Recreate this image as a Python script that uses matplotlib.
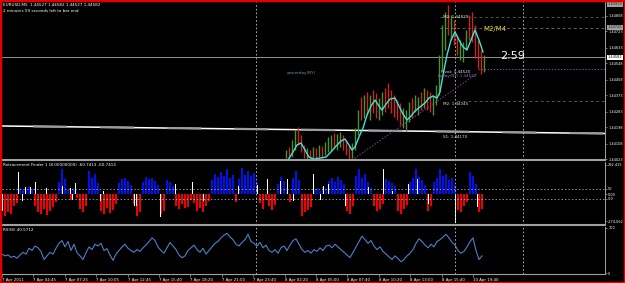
import numpy as np
import matplotlib
matplotlib.use("Agg")
import matplotlib.pyplot as plt
from matplotlib.patches import Rectangle

plt.rcParams['lines.scale_dashes'] = False

W, H = 625, 283

# ---- price panel data (EURUSD M5) ----
cand_start = 286
cand_hi = [1.44075, 1.44091, 1.44129, 1.44184, 1.44200, 1.44157, 1.44102, 1.44085, 1.44075, 1.44091,
           1.44085, 1.44102, 1.44096, 1.44118, 1.44146, 1.44157, 1.44167, 1.44162, 1.44173, 1.44157,
           1.44129, 1.44102, 1.44113, 1.44195, 1.44293, 1.44364, 1.44375, 1.44392, 1.44375, 1.44403,
           1.44386, 1.44359, 1.44392, 1.44414, 1.44441, 1.44403, 1.44375, 1.44348, 1.44332, 1.44304,
           1.44293, 1.44337, 1.44359, 1.44375, 1.44364, 1.44392, 1.44414, 1.44403, 1.44392, 1.44375,
           1.44430, 1.44594, 1.44758, 1.44829, 1.44868, 1.44813, 1.44786, 1.44704, 1.44676, 1.44665,
           1.44731, 1.44813, 1.44829, 1.44758, 1.44676, 1.44622, 1.44594]
cand_lo = [1.44031, 1.44031, 1.44036, 1.44075, 1.44102, 1.44064, 1.44031, 1.44020, 1.44020, 1.44031,
           1.44020, 1.44036, 1.44031, 1.44047, 1.44064, 1.44075, 1.44085, 1.44075, 1.44091, 1.44075,
           1.44047, 1.44020, 1.44031, 1.44075, 1.44157, 1.44239, 1.44250, 1.44266, 1.44239, 1.44277,
           1.44250, 1.44239, 1.44266, 1.44282, 1.44304, 1.44277, 1.44255, 1.44239, 1.44211, 1.44195,
           1.44178, 1.44228, 1.44250, 1.44282, 1.44266, 1.44293, 1.44304, 1.44293, 1.44282, 1.44266,
           1.44321, 1.44375, 1.44512, 1.44622, 1.44704, 1.44676, 1.44649, 1.44594, 1.44567, 1.44556,
           1.44622, 1.44676, 1.44665, 1.44578, 1.44523, 1.44490, 1.44501]
cand_dir = "grggrrrgrgrgrgggrggrrrgggrgrgrrggrrrrrrgggrggrgrrgggggrgrrgggrrrrr"

ma_x = [288, 293, 297, 301, 305, 309, 314, 320, 326, 331, 336, 341, 345, 349, 352, 355, 359, 363, 367, 371,
        375, 379, 382, 386, 390, 395, 399, 403, 407, 411, 415, 420, 425, 429, 433, 437, 440, 443, 447, 451,
        455, 459, 463, 467, 471, 475, 479, 483]
ma_y = [1.44020, 1.44064, 1.44102, 1.44113, 1.44075, 1.44036, 1.44025, 1.44031, 1.44036, 1.44064,
        1.44096, 1.44124, 1.44135, 1.44102, 1.44075, 1.44091, 1.44146, 1.44195, 1.44266, 1.44315,
        1.44348, 1.44315, 1.44293, 1.44326, 1.44353, 1.44359, 1.44315, 1.44271, 1.44239, 1.44260,
        1.44288, 1.44310, 1.44332, 1.44359, 1.44370, 1.44359, 1.44392, 1.44485, 1.44594, 1.44676,
        1.44720, 1.44676, 1.44638, 1.44622, 1.44676, 1.44731, 1.44676, 1.44611]

trend_x = [2, 605]
trend_y = [1.44206, 1.44165]
today_x = [352, 478]
today_y = [1.44020, 1.44496]
pivot, m2, m3_line, m3_top = 1.44520, 1.44345, 1.44742, 1.44802
bid = 1.44582

price_ticks = [1.44808, 1.44723, 1.44633, 1.44548, 1.44458, 1.44373, 1.44283, 1.44198, 1.44108, 1.44023]

# ---- Retracement Finder histogram ----
hist_vals = [-150, -220, -180, -200, -120, -90,
             60, 40, 30, 70, 50,
             -120, -180, -200, -150, -210, -170, -130, -80,
             120, 250, 150,
             40, -60, 50, -40,
             -150, -180, -120,
             230, 160, 200, 110,
             -170, -200, -140, -190, -160, -100,
             110, 150, 160, 130, 90,
             -100, -220, -180,
             120, 170, 150, 160, 130, 90,
             -200, -170,
             140, 120, 80,
             -120, -150, -100, -140, -130, -60,
             -90, -170, -140, -180, -120, -70,
             140, 200, 170, 220, 180, 250, 160, 190,
             -80,
             150, 260, 190, 230, 180, 210, 120,
             -90, -150, -60, -120, -160, -110,
             100, 170, 130, 60,
             -80,
             160, 230, 140,
             -220, -180, -160, -130,
             40, 60, 30, 70, 50,
             130, 160, 120, 170, 140, 100,
             -170, -200, -120,
             180, 250, 160, 200, 120,
             60,
             -120, -170, -150, -100,
             150, 130, 110, 80,
             -170, -200, -150, -110,
             120, 160, 250, 170, 140, 90,
             -170, -120,
             120, 160, 250, 180, 200, 140, 160, 90,
             -160, -180, -120, -80,
             220, 180, 100,
             -180, -150]
white_x = [2, 18, 22, 25, 30, 35, 46, 62, 70, 72, 75, 100, 103, 134, 136, 160, 175, 192, 203, 238,
           257, 267, 280, 287, 293, 313, 320, 323, 328, 345, 368, 383, 392, 408, 417, 428, 455, 477]
white_v = [-170, 220, -70, 70, 70, 120, 60, 80, 60, -60, 110, -70, 30, -120, -120, -230, 100, 120, -70, 80,
           90, 150, 130, 150, -70, 200, -60, 80, 100, -120, 70, 250, 30, 100, 150, -100, -290, -130]

# ---- RSI(8) ----
rsi_vals = [42, 38, 40, 35, 37, 33, 40, 46, 42, 55, 50, 60, 56, 48, 30, 38, 46, 42, 55, 66,
            72, 58, 70, 50, 64, 45, 38, 30, 45, 58, 52, 64, 60, 66, 50, 54, 40, 28, 42, 50,
            58, 64, 55, 50, 46, 52, 48, 56, 62, 70, 78, 72, 58, 50, 44, 56, 68, 60, 52, 40,
            34, 38, 50, 56, 62, 52, 46, 55, 42, 50, 58, 66, 70, 78, 84, 88, 80, 74, 64, 60,
            68, 74, 86, 70, 66, 60, 68, 56, 62, 50, 46, 52, 44, 56, 60, 50, 62, 72, 76, 64,
            52, 46, 50, 44, 52, 48, 56, 50, 60, 62, 56, 64, 58, 52, 46, 40, 34, 46, 58, 70,
            82, 74, 66, 72, 60, 52, 58, 48, 42, 36, 30, 38, 32, 25, 30, 38, 44, 52, 66, 76,
            70, 62, 56, 64, 58, 70, 74, 80, 86, 78, 68, 62, 50, 44, 48, 58, 70, 78, 50, 30, 38]

time_labels = ["7 Apr 2011", "7 Apr 04:45", "7 Apr 07:25", "7 Apr 10:05", "7 Apr 12:45", "7 Apr 15:40",
               "7 Apr 18:20", "7 Apr 21:00", "7 Apr 23:40", "8 Apr 02:20", "8 Apr 05:00", "8 Apr 07:40",
               "8 Apr 10:20", "8 Apr 13:00", "8 Apr 15:40", "10 Apr 19:40"]
vline_x = [256, 455, 523]

AXC = '#a0a0a0'
SMALL = 3.0
YLAB = 2.5

fig = plt.figure(figsize=(W / 100, H / 100), dpi=100, facecolor='black')


def make_panel(top, bottom):
    ax = fig.add_axes([2 / W, 1 - bottom / H, 603 / W, (bottom - top) / H])
    ax.set_facecolor('black')
    ax.set_xlim(2, 605)
    for s in ['top', 'left']:
        ax.spines[s].set_visible(False)
    ax.spines['right'].set_color(AXC)
    ax.spines['right'].set_linewidth(0.7)
    ax.spines['bottom'].set_color(AXC)
    ax.spines['bottom'].set_linewidth(1.5)
    ax.yaxis.tick_right()
    ax.tick_params(axis='y', colors=AXC, labelcolor='white', labelsize=YLAB, length=1.5, width=0.5, pad=0.8)
    ax.tick_params(axis='x', bottom=False, labelbottom=False)
    for xv in vline_x:
        ax.axvline(xv, color='#c8c8c8', lw=0.6, ls=(0, (1.2, 1.5)))
    return ax


# price panel
ax1 = make_panel(2, 160)
ax1.set_ylim(1.44020, 1.44884)
ax1.set_yticks(price_ticks)
ax1.set_yticklabels([f"{t:.5f}" for t in price_ticks])

ax1.axhline(bid, color='#a8a8a8', lw=0.6)
ax1.plot(trend_x, trend_y, color='white', lw=1.1)
ax1.plot(trend_x, trend_y, color='#9c9c9c', lw=1.6, ls=(26, (24.5, 23.8)))
ax1.hlines(m3_top, 440, 605, color='#4a6a4a', lw=0.6, ls=(0, (2, 2)))
ax1.hlines(m3_line, 440, 605, color='#6a7a6a', lw=0.6, ls=(0, (2, 2)))
ax1.hlines(m2, 457, 605, color='#3f7a3f', lw=0.6, ls=(0, (2, 2)))
ax1.hlines(pivot, 478, 605, color='#8a3c9a', lw=0.8, ls=(0, (1, 1.2)))
ax1.plot(today_x, today_y, color='#7a3c9a', lw=0.8, ls=(0, (1, 1.2)))

cx = np.arange(len(cand_hi)) * 3 + cand_start
ccol = ['#4f8f2f' if d == 'g' else '#c8281e' for d in cand_dir]
ax1.vlines(cx, cand_lo, cand_hi, colors=ccol, lw=1.0)
ax1.plot(ma_x, ma_y, color='#46e0dc', lw=1.0)

tc = '#e0e0e0'
ax1.text(443, 1.44802, "M3: 1.44829", color=tc, fontsize=SMALL, va='center')
ax1.text(483, 1.44737, "M2/M4", color='#e0d040', fontsize=5, va='center')
ax1.text(500, 1.44587, "2:59", color='white', fontsize=8, va='center')
ax1.text(438, 1.44480, "today(NY) 1.44520", color='#7c7ca8', fontsize=SMALL, va='center')
ax1.text(441, 1.44502, "Pivot: 1.44520", color=tc, fontsize=SMALL, va='center')
ax1.text(287, 1.44496, "yesterday(NY)", color='#6f93a3', fontsize=SMALL, va='center')
ax1.text(443, 1.44326, "M2: 1.44345", color=tc, fontsize=SMALL, va='center')
ax1.text(443, 1.44146, "S1: 1.44170", color=tc, fontsize=SMALL, va='center')

ytr = ax1.get_yaxis_transform()
ax1.text(1.005, bid, "1.44582", transform=ytr, color='black', fontsize=YLAB, va='center', ha='left',
         bbox=dict(boxstyle='square,pad=0.15', fc='white', ec='none'), clip_on=False)
ax1.text(1.005, 1.44745, "1.44745", transform=ytr, color='#202020', fontsize=YLAB, va='center', ha='left',
         bbox=dict(boxstyle='square,pad=0.15', fc='#a0a0a0', ec='none'), clip_on=False)
ax1.text(1.005, 0.985, "1.44919", transform=ax1.transAxes, color='#202020', fontsize=YLAB, va='center',
         ha='left', bbox=dict(boxstyle='square,pad=0.15', fc='#a0a0a0', ec='none'), clip_on=False)

# retracement finder panel
ax2 = make_panel(162, 225)
ax2.set_ylim(-310, 320)
ax2.set_yticks([292.415, 50, 0, -50, -274.062])
ax2.set_yticklabels(["292.415", "50", "0.00", "-50", "-274.062"])
hx = np.arange(len(hist_vals)) * 3 + 2
hcol = ['#0010f0' if v > 0 else '#f00000' for v in hist_vals]
ax2.bar(hx, hist_vals, width=2.8, color=hcol, linewidth=0)
ax2.bar(white_x, white_v, width=1.0, color='white', linewidth=0)
for lv in (50, -50):
    ax2.axhline(lv, color='#d0d0d0', lw=0.5, ls=(0, (1, 1.5)))
ax2.text(3, 305, "Retracement Finder 1 (8.00000000) -60.7413 -60.7413", color='white', fontsize=SMALL,
         va='top')

# RSI panel
ax3 = make_panel(227, 274)
ax3.spines['bottom'].set_linewidth(0.8)
ax3.set_ylim(-2.2, 102.2)
ax3.set_yticks([100, 0])
ax3.set_yticklabels(["100", "0"])
rx = np.arange(len(rsi_vals)) * 3 + 2
ax3.plot(rx, rsi_vals, color='#4f7fc8', lw=0.8)
ax3.text(3, 99, "RSI(8) 40.5712", color='white', fontsize=SMALL, va='top')
tpos = np.arange(len(time_labels)) * 31.4 + 2
ax3.set_xticks(tpos)
ax3.set_xticklabels(time_labels)
ax3.tick_params(axis='x', bottom=True, labelbottom=True, colors=AXC, labelcolor='white',
                labelsize=2.8, length=2, width=0.5, pad=1)
for lbl in ax3.get_xticklabels():
    lbl.set_ha('left')

# header text
fig.text(3 / W, 1 - 5 / H, "EURUSD,M5  1.44527 1.44582 1.44527 1.44582", color='white', fontsize=SMALL,
         va='center')
fig.text(3 / W, 1 - 11 / H, "2 minutes 59 seconds left to bar end", color='white', fontsize=SMALL,
         va='center')

# red window frame
fig.add_artist(Rectangle((0, 0), 1, 1, transform=fig.transFigure, fill=False, ec='#e00000', lw=2.5))

fig.savefig('out.png', dpi=100, facecolor='black')
